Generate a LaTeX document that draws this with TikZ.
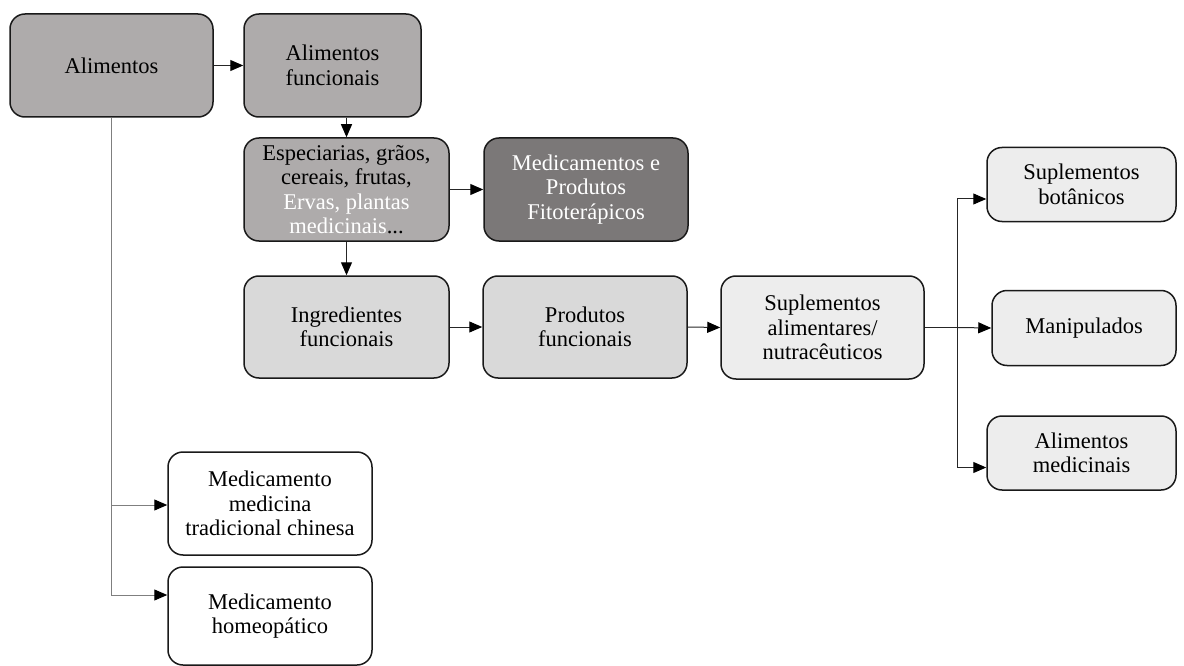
\documentclass[tikz,border=0pt]{standalone}
\usepackage{fontspec}
\setmainfont{Liberation Serif}
\usetikzlibrary{arrows.meta,calc}
\definecolor{cA}{HTML}{AEABAB}
\definecolor{cM}{HTML}{7B7878}
\definecolor{cI}{HTML}{D9D9D9}
\definecolor{cS}{HTML}{EDEDED}
\definecolor{lineg}{HTML}{7F7F7F}
\tikzset{
  box/.style={draw=black!90, line width=1.5pt, rounded corners=15pt, align=center,
    inner sep=0pt, font=\rmfamily\fontsize{22.5}{24.5}\selectfont},
  conn/.style={line width=1pt, draw=black!85, -{Triangle[length=13pt,width=11pt,color=black]}},
  plain/.style={line width=1pt, draw=black!85},
}
\begin{document}
\begin{tikzpicture}[x=1pt,y=-1pt]
\useasboundingbox (0,0) rectangle (1184,666);
\node[box, fill=cA, minimum width=203pt, minimum height=103pt] (alim) at (111.5,65.5) {Alimentos};
\node[box, fill=cA, minimum width=177pt, minimum height=103pt] (af) at (332.5,65.5) {Alimentos\\funcionais};
\node[box, fill=cA, minimum width=205pt, minimum height=103pt] (esp) at (346.5,189.5) {Especiarias, grãos,\\cereais, frutas,\\\textcolor{white}{Ervas, plantas}\\\textcolor{white}{medicinais}...};
\node[box, fill=cM, text=white, minimum width=204pt, minimum height=103pt] (med) at (586,189.5) {Medicamentos e\\Produtos\\Fitoterápicos};
\node[box, fill=cI, minimum width=205pt, minimum height=102pt] (ing) at (346.5,327) {Ingredientes\\funcionais};
\node[box, fill=cI, minimum width=204pt, minimum height=102pt] (prod) at (585,327) {Produtos\\funcionais};
\node[box, fill=cS, minimum width=203pt, minimum height=103pt] (sup) at (822.5,327.5) {Suplementos\\alimentares/\\nutracêuticos};
\node[box, fill=cS, minimum width=189pt, minimum height=74pt] (bot) at (1081.5,184.5) {Suplementos\\botânicos};
\node[box, fill=cS, minimum width=184pt, minimum height=75pt] (man) at (1084,328) {Manipulados};
\node[box, fill=cS, minimum width=189pt, minimum height=74pt] (amed) at (1081.5,453) {Alimentos\\medicinais};
\node[box, fill=white, minimum width=204pt, minimum height=103pt] (chin) at (270,503.5) {Medicamento\\medicina\\tradicional chinesa};
\node[box, fill=white, minimum width=204pt, minimum height=98pt] (hom) at (270,616) {Medicamento\\homeopático};

\draw[conn] (alim.east) -- (af.west);
\draw[conn] (af.south -| esp.north) -- (esp.north);
\draw[conn] (esp.east) -- (med.west);
\draw[conn] (esp.south) -- (ing.north);
\draw[conn] (ing.east) -- (prod.west);
\draw[conn] (prod.east) -- (sup.west);

\coordinate (j) at (957,327.5);
\draw[plain] (sup.east) -- (j);
\draw[conn] (j) |- ($(bot.west)+(0,14.5)$);
\draw[conn] (j) -- (man.west);
\draw[conn] (j) |- ($(amed.west)+(0,14.5)$);

\draw[conn, draw=lineg] (alim.south) |- ($(chin.west)+(0,1.5)$);
\draw[conn, draw=lineg] (alim.south) |- ($(hom.west)+(0,-21)$);
\end{tikzpicture}
\end{document}
